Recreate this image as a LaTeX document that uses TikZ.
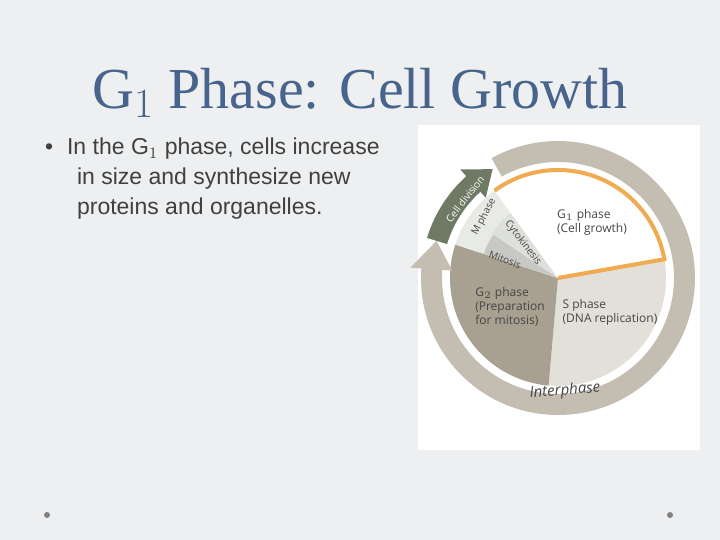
\documentclass[tikz,border=0pt]{standalone}
\usepackage{fontspec}
\setmainfont{Liberation Sans}
\newfontfamily\titlefont{Liberation Serif}
\newfontfamily\labelfont{Open Sans}
\usepackage{tikz}
\definecolor{slidebg}{RGB}{238,239,240}
\definecolor{titleblue}{RGB}{70,100,140}
\definecolor{ringgray}{RGB}{196,190,178}
\definecolor{sgray}{RGB}{226,224,216}
\definecolor{gtwo}{RGB}{168,160,144}
\definecolor{mitgray}{RGB}{200,200,196}
\definecolor{cytgray}{RGB}{222,224,220}
\definecolor{mphase}{RGB}{232,234,230}
\definecolor{divgreen}{RGB}{110,122,100}
\definecolor{gorange}{RGB}{240,170,80}
\definecolor{labeltext}{RGB}{70,70,70}
\tikzset{
  lbl/.style={font=\labelfont\fontsize{6}{7}\selectfont, text=labeltext, align=left},
  smalllbl/.style={font=\labelfont\fontsize{5}{6}\selectfont, text=labeltext},
  bullettext/.style={font=\fontsize{11.5}{15}\selectfont, text=black!75, align=left, anchor=north west}
}
\begin{document}
\begin{tikzpicture}[x=0.5pt,y=0.5pt]
\fill[slidebg] (0,0) rectangle (720,540);
\useasboundingbox (0,0) rectangle (720,540);

% Title and bullet
\node[font=\titlefont\fontsize{29}{33}\selectfont, text=titleblue] (title) at (360,447) {G$_1$ Phase: Cell Growth};
\node[bullettext] (bullet) at (38,409) {\textbullet\hspace{7pt}In the G$_1$ phase, cells increase\\
\hspace{16pt}in size and synthesize new\\
\hspace{16pt}proteins and organelles.};

% Picture area
\fill[white] (418,90) rectangle (700,415);
\coordinate (c) at (558,262);

% Pie slices
\fill[sgray] (c) -- ++(10:108) arc (10:-95:108) -- cycle;
\fill[gtwo] (c) -- ++(-95:108) arc (-95:-198:108) -- cycle;
\fill[mphase] (c) -- ++(162:108) arc (162:126:108) -- cycle;
\fill[mitgray] (c) -- ++(162:78) arc (162:146:78) -- cycle;
\fill[cytgray] (c) -- ++(146:80) arc (146:126:80) -- cycle;
\fill[white] (c) -- ++(10:108) arc (10:126:108) -- cycle;
\draw[gorange, line width=2pt] (c) ++(126:108) arc (126:10:108) -- (c);

% Interphase ring
\fill[ringgray] (c) ++(119:116) arc (119:-184:116) -- ++(-184:-10) -- ([shift={(c)}]163:127) -- ([shift={(c)}]-184:148) -- ++(-184:-11) arc (-184:119:137) -- cycle;
% Cell division arrow
\fill[divgreen] (c) ++(163:116) arc (163:132:116) -- ++(132:-8) -- ([shift={(c)}]121:127) -- ([shift={(c)}]132:146) -- ++(132:-9) arc (132:163:137) -- cycle;

% Labels
\node[lbl] (gone) at (592,318) {G$_1$ phase\\(Cell growth)};
\node[lbl] (sph) at (610,228) {S phase\\(DNA replication)};
\node[lbl] (gtwolbl) at (510,233) {G$_2$ phase\\(Preparation\\for mitosis)};
\node[lbl, font=\labelfont\itshape\fontsize{7.5}{8}\selectfont, rotate=5] (inter) at (565,149) {Interphase};
\node[smalllbl, text=white, rotate=52] (div) at (465,341) {Cell division};
\node[smalllbl, rotate=62] (mph) at (484,323) {M phase};
\node[smalllbl, rotate=-52] (cyto) at (523,297) {Cytokinesis};
\node[smalllbl, rotate=-20] (mito) at (505,280) {Mitosis};

% Corner dots
\fill[gray] (47,25) circle (3);
\fill[gray] (670,25) circle (3);
\end{tikzpicture}
\end{document}
